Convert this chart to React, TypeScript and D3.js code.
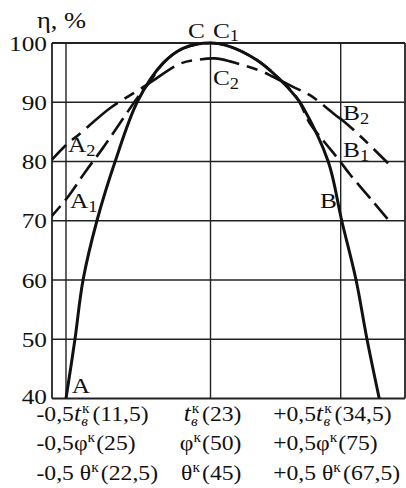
import React from "react";
import * as d3 from "d3";

const W = 406;
const H = 488;

// y axis ticks (η, %)
const yTicks = [40, 50, 60, 70, 80, 90, 100];
// relative x positions of the vertical grid lines
const xGrid = [-0.5, 0, 0.5];
const xRel = ["-0,5", "", "+0,5"];
const tbVals = ["11,5", "23", "34,5"];
const phiVals = ["25", "50", "75"];
const thetaVals = ["22,5", "45", "67,5"];

// curve A–C–B (solid)
const curveABC: [number, number][] = [
  [-0.5, 40], [-0.469, 50], [-0.441, 60], [-0.393, 70], [-0.33, 80],
  [-0.251, 90.3], [-0.164, 96.6], [-0.095, 99.1], [0, 100], [0.075, 99.4],
  [0.179, 97.1], [0.256, 94.3], [0.332, 90.7], [0.352, 89.4], [0.452, 80],
  [0.504, 70], [0.559, 60], [0.601, 50], [0.648, 40],
];
// curve A1–C1–B1 (short dashes)
const curveA1C1B1: [number, number][] = [
  [-0.56, 70.2], [-0.497, 73.8], [-0.434, 78.2], [-0.372, 82.3], [-0.306, 87.0],
  [-0.251, 90.9], [-0.209, 93.5], [-0.164, 96.6], [-0.095, 99.1], [0, 100],
  [0.075, 99.4], [0.179, 97.1], [0.256, 94.3], [0.332, 90.7], [0.382, 86.4],
  [0.413, 84.6], [0.467, 81.7], [0.498, 80], [0.536, 77.8], [0.621, 73.4], [0.682, 70.2],
];
// curve A2–C2–B2 (long dashes)
const curveA2C2B2: [number, number][] = [
  [-0.56, 79.7], [-0.497, 82.9], [-0.452, 84.7], [-0.348, 89.0], [-0.254, 91.9],
  [-0.209, 93.3], [-0.106, 96.5], [-0.04, 97.2], [0.017, 97.4], [0.075, 96.9],
  [0.203, 95.1], [0.24, 94.3], [0.317, 92.6], [0.382, 91.2], [0.478, 87.9],
  [0.517, 86.6], [0.582, 84.0], [0.682, 79.7],
];

// point labels: text, subscript, position (u, η)
const pointLabels: { t: string; s: string; u: number; e: number }[] = [
  { t: "A", s: "", u: -0.48, e: 40.93 },
  { t: "A", s: "1", u: -0.486, e: 72.15 },
  { t: "A", s: "2", u: -0.493, e: 81.6 },
  { t: "B", s: "", u: 0.4205, e: 72.15 },
  { t: "B", s: "1", u: 0.509, e: 80.7 },
  { t: "B", s: "2", u: 0.509, e: 86.95 },
  { t: "C", s: "", u: -0.078, e: 100.85 },
  { t: "C", s: "1", u: 0.0096, e: 100.85 },
  { t: "C", s: "2", u: 0.0096, e: 92.9 },
];

const FONT = "'Liberation Serif', 'Times New Roman', serif";
const SX = 1.15;

export default function App() {
  const x = d3.scaleLinear().domain([-0.5, 0, 0.5]).range([66, 210.5, 340.7]);
  const y = d3.scaleLinear().domain([40, 100]).range([398.5, 43]);
  const left = 52;
  const right = 405;
  const top = y(100);
  const bottom = y(40);

  const line = d3
    .line<[number, number]>()
    .x((d) => x(d[0]))
    .y((d) => y(d[1]))
    .curve(d3.curveCatmullRom.alpha(0.5));

  const ink = "#111";
  const rowY = [bottom + 22.5, bottom + 51.5, bottom + 81.5];

  const kSup = (
    <tspan fontSize={14} dy={-8}>к</tspan>
  );

  const row1 = (i: number) => (
    <>
      {xRel[i]}
      <tspan fontStyle="italic" fontSize={23}>t</tspan>
      <tspan fontSize={14} dx={1} dy={-8}>к</tspan>
      <tspan fontSize={14} fontStyle="italic" dx={-7.5} dy={13}>в</tspan>
      <tspan dy={-5} dx={4}>({tbVals[i]})</tspan>
    </>
  );
  const row2 = (i: number) => (
    <>
      {xRel[i]}φ{kSup}
      <tspan dy={8} dx={1}>({phiVals[i]})</tspan>
    </>
  );
  const row3 = (i: number) => (
    <>
      {xRel[i]}
      {i !== 1 ? " " : ""}θ{kSup}
      <tspan dy={8} dx={2}>({thetaVals[i]})</tspan>
    </>
  );
  const rows = [row1, row2, row3];
  const colX = [x(-0.5) - 29.5, x(0) + 31, x(0.5) - 67.5];
  const colAnchor = ["start", "end", "start"];

  return (
    <svg
      width={W}
      height={H}
      style={{ position: "absolute", left: 0, top: 0, background: "#fff" }}
      fontFamily={FONT}
      fill={ink}
    >
      <rect x={0} y={0} width={W} height={H} fill="#fff" />
      <defs>
        <clipPath id="plot">
          <rect x={left} y={top - 6} width={right - left} height={bottom - top + 6} />
        </clipPath>
      </defs>

      {/* horizontal grid */}
      {yTicks.map((t) => (
        <line
          key={"h" + t}
          x1={left}
          x2={right}
          y1={y(t)}
          y2={y(t)}
          stroke="#222"
          strokeWidth={t === 40 || t === 100 ? 2 : 1.4}
        />
      ))}
      {/* vertical grid */}
      {xGrid.map((g) => (
        <line key={"v" + g} x1={x(g)} x2={x(g)} y1={top} y2={bottom} stroke="#222" strokeWidth={1.4} />
      ))}
      <line x1={left} x2={left} y1={top} y2={bottom} stroke="#222" strokeWidth={1.8} />
      <line x1={right} x2={right} y1={top} y2={bottom} stroke="#222" strokeWidth={1.8} />

      {/* curves */}
      <g clipPath="url(#plot)" fill="none" stroke={ink} strokeLinecap="butt">
        <path d={line(curveA2C2B2) || ""} strokeWidth={2.6} strokeDasharray="40,8,11,8" strokeDashoffset={15} />
        <path d={line(curveA1C1B1) || ""} strokeWidth={2.6} strokeDasharray="20,7" strokeDashoffset={2} />
        <path d={line(curveABC) || ""} strokeWidth={3} />
      </g>

      {/* y tick labels */}
      {yTicks.map((t) => (
        <text
          key={"yl" + t}
          transform={`translate(${left - 5},${y(t) + (t === 40 ? 5 : 7.5)}) scale(${SX},1)`}
          textAnchor="end"
          fontSize={22}
        >
          {t}
        </text>
      ))}
      {/* y title */}
      <text transform={`translate(${left - 15},${top - 15}) scale(${SX},1)`} fontSize={23}>
        η, %
      </text>

      {/* point labels */}
      {pointLabels.map((p, i) => (
        <text key={"pl" + i} transform={`translate(${x(p.u)},${y(p.e)}) scale(${SX},1)`} fontSize={22}>
          {p.t}
          {p.s && (
            <tspan fontSize={16} dy={3.5}>
              {p.s}
            </tspan>
          )}
        </text>
      ))}

      {/* x labels */}
      {rows.map((r, ri) =>
        [0, 1, 2].map((ci) => (
          <text
            key={"xl" + ri + ci}
            transform={`translate(${colX[ci]},${rowY[ri]}) scale(1.1,1)`}
            textAnchor={colAnchor[ci] as any}
            fontSize={21.5}
          >
            {r(ci)}
          </text>
        ))
      )}
    </svg>
  );
}
